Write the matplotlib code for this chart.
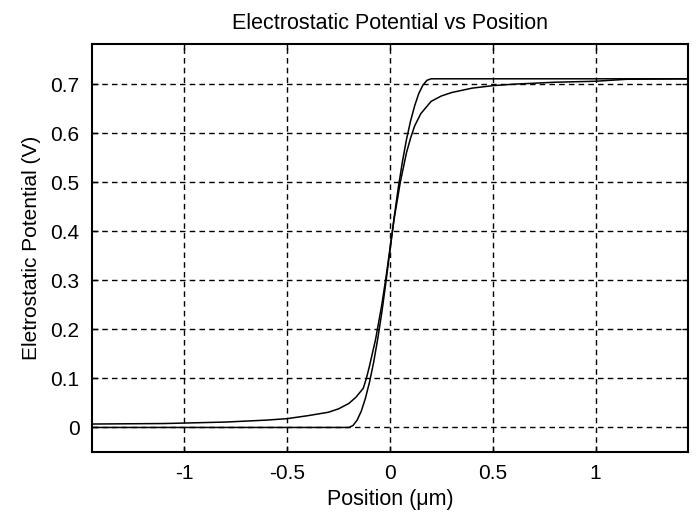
import numpy as np
import matplotlib
matplotlib.use('Agg')
import matplotlib.pyplot as plt

# depletion approximation curve
x_dep = [-1.45, -0.2, -0.18, -0.16, -0.14, -0.12, -0.1, -0.08, -0.06, -0.04, -0.02, 0.0,
         0.02, 0.04, 0.06, 0.08, 0.1, 0.12, 0.14, 0.16, 0.18, 0.2, 1.45]
v_dep = [0.0, 0.0, 0.004, 0.015, 0.033, 0.059, 0.092, 0.132, 0.18, 0.234, 0.296, 0.362,
         0.428, 0.488, 0.541, 0.587, 0.625, 0.656, 0.681, 0.698, 0.708, 0.711, 0.711]

# full solution curve
x_full = [-1.45, -1.1, -1.0, -0.8, -0.6, -0.5, -0.4, -0.3, -0.25, -0.2, -0.165, -0.13, -0.115,
          -0.1, -0.07, -0.04, -0.02, 0.0, 0.02, 0.05, 0.08, 0.1, 0.12, 0.15, 0.2, 0.25, 0.3,
          0.4, 0.5, 0.6, 0.8, 1.0, 1.15, 1.45]
v_full = [0.007, 0.008, 0.009, 0.011, 0.015, 0.018, 0.024, 0.031, 0.038, 0.049, 0.062, 0.08, 0.1,
          0.125, 0.18, 0.25, 0.305, 0.365, 0.425, 0.5, 0.56, 0.59, 0.615, 0.64, 0.665, 0.676, 0.683,
          0.692, 0.697, 0.7, 0.704, 0.706, 0.71, 0.711]

xticks = [-1, -0.5, 0, 0.5, 1]
xtick_labels = ['-1', '-0.5', '0', '0.5', '1']
yticks = [0, 0.1, 0.2, 0.3, 0.4, 0.5, 0.6, 0.7]
ytick_labels = ['0', '0.1', '0.2', '0.3', '0.4', '0.5', '0.6', '0.7']

plt.rcParams['font.family'] = ['Liberation Sans', 'DejaVu Sans']

fig = plt.figure(figsize=(6.98, 5.23), dpi=100)
ax = fig.add_axes([0.1318, 0.1358, 0.8539, 0.7801])

ax.plot(x_dep, v_dep, color='black', lw=1.1)
ax.plot(x_full, v_full, color='black', lw=1.1)

ax.set_xlim(-1.45, 1.45)
ax.set_ylim(-0.05, 0.782)
ax.set_xticks(xticks)
ax.set_xticklabels(xtick_labels)
ax.set_yticks(yticks)
ax.set_yticklabels(ytick_labels)
ax.tick_params(direction='in', length=4, width=1, labelsize=15, pad=9, top=True, right=True)

ax.grid(True, color='black', linestyle=(0, (4, 3)), linewidth=1)
for s in ax.spines.values():
	s.set_linewidth(1.5)

ax.set_title('Electrostatic Potential vs Position', fontsize=15.5, pad=11)
ax.set_xlabel('Position (μm)', fontsize=15.5, labelpad=4)
ax.set_ylabel('Eletrostatic Potential (V)', fontsize=15, labelpad=7)

fig.savefig('out.png', dpi=100, facecolor='white')
